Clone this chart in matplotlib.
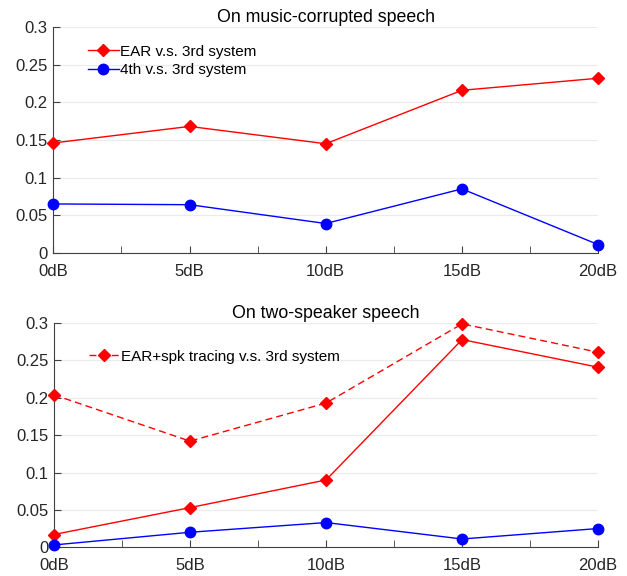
import matplotlib
matplotlib.use("Agg")
import matplotlib.pyplot as plt
import numpy as np

plt.rcParams['font.family'] = ['Liberation Sans', 'DejaVu Sans']

snr_labels = ['0dB', '5dB', '10dB', '15dB', '20dB']
snr = [0, 5, 10, 15, 20]

music_ear = [0.146, 0.168, 0.145, 0.216, 0.232]
music_4th = [0.065, 0.064, 0.039, 0.085, 0.011]

two_ear_spk = [0.204, 0.142, 0.193, 0.299, 0.261]
two_ear = [0.017, 0.053, 0.090, 0.278, 0.241]
two_4th = [0.003, 0.020, 0.033, 0.011, 0.025]

yticks = [0, 0.05, 0.1, 0.15, 0.2, 0.25, 0.3]
ytick_labels = ['0', '0.05', '0.1', '0.15', '0.2', '0.25', '0.3']

fig = plt.figure(figsize=(6.27, 5.76), dpi=100)
ax1 = fig.add_axes([0.085, 0.561, 0.869, 0.392])
ax2 = fig.add_axes([0.086, 0.050, 0.868, 0.389])

red = '#ff0000'
blue = '#0000ff'

def style(ax, title):
    ax.set_xlim(0, 20)
    ax.set_ylim(0, 0.3)
    ax.set_xticks(snr)
    ax.set_xticklabels(snr_labels)
    ax.set_xticks([2.5, 7.5, 12.5, 17.5], minor=True)
    ax.set_yticks(yticks)
    ax.set_yticklabels(ytick_labels)
    ax.grid(axis='y', color='#ebebeb', linewidth=0.8)
    ax.set_axisbelow(True)
    for s in ['top', 'right']:
        ax.spines[s].set_visible(False)
    for s in ['left', 'bottom']:
        ax.spines[s].set_color('#404040')
        ax.spines[s].set_linewidth(0.8)
    ax.tick_params(axis='both', which='both', direction='in', colors='#404040',
                   labelcolor='#262626', labelsize=12, length=5)
    ax.tick_params(axis='x', pad=8)
    ax.tick_params(axis='y', pad=4)
    ax.set_title(title, fontsize=12.8, color='black', pad=4)

ax1.plot(snr, music_ear, color=red, marker='D', markersize=6.5, linewidth=1.0,
         label='EAR v.s. 3rd system', clip_on=False, zorder=3)
ax1.plot(snr, music_4th, color=blue, marker='o', markersize=7.5, linewidth=1.0,
         label='4th v.s. 3rd system', clip_on=False, zorder=3)
style(ax1, 'On music-corrupted speech')
ax1.legend(loc='upper left', bbox_to_anchor=(0.044, 0.97), frameon=False, fontsize=11,
           handlelength=2.0, handletextpad=0.1, labelspacing=0.3, borderaxespad=0.3)

l3, = ax2.plot(snr, two_ear_spk, color=red, marker='D', markersize=6.5, linewidth=1.0,
               linestyle=(0, (5, 3)), label='EAR+spk tracing v.s. 3rd system',
               clip_on=False, zorder=3)
ax2.plot(snr, two_ear, color=red, marker='D', markersize=6.5, linewidth=1.0,
         clip_on=False, zorder=3)
ax2.plot(snr, two_4th, color=blue, marker='o', markersize=7.5, linewidth=1.0,
         clip_on=False, zorder=3)
style(ax2, 'On two-speaker speech')
ax2.legend(handles=[l3], loc='upper left', bbox_to_anchor=(0.044, 0.93), frameon=False,
           fontsize=11, handlelength=2.0, handletextpad=0.1, borderaxespad=0.3)

fig.savefig('out.png', dpi=100)
